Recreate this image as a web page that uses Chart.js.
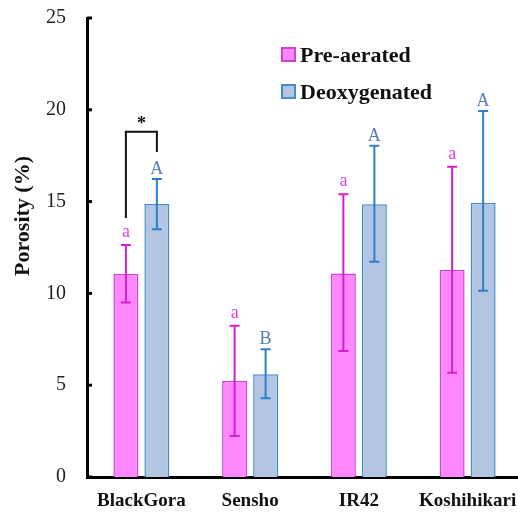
<!DOCTYPE html>
<html><head><meta charset="utf-8">
<script src="https://cdn.jsdelivr.net/npm/chart.js@4/dist/chart.umd.min.js"></script>
<style>html,body{margin:0;padding:0;overflow:hidden;background:#fff}#wrap{width:524px;height:513px}</style>
</head><body><div id="wrap"><canvas id="c" width="524" height="513"></canvas></div>
<script>
const categories = ['BlackGora', 'Sensho', 'IR42', 'Koshihikari'];
const seriesNames = ['Pre-aerated', 'Deoxygenated'];
const yTitle = 'Porosity (%)';
const preAerated = [11.06, 5.23, 11.09, 11.27];
const preHigh = [12.64, 8.24, 15.4, 16.9];
const preLow = [9.5, 2.23, 6.86, 5.68];
const deoxygenated = [14.87, 5.59, 14.85, 14.94];
const deoHigh = [16.23, 6.96, 18.04, 19.93];
const deoLow = [13.5, 4.29, 11.73, 10.15];
const preLetters = ['a', 'a', 'a', 'a'];
const deoLetters = ['A', 'B', 'A', 'A'];
const yTicks = [0, 5, 10, 15, 20, 25];
const bracket = {left: 14.1, top: 18.8, right: 17.7, label: '*'};

const PINK_FILL = '#ff88ff', PINK_LINE = '#d040d8', PINK_ERR = '#d21fd2', PINK_TXT = '#e040e0';
const BLUE_FILL = '#b2c5e3', BLUE_LINE = '#4a8cc8', BLUE_ERR = '#2f7fc8', BLUE_TXT = '#5a7db8';
const SERIF = '"Liberation Serif", "Times New Roman", serif';

const errHigh = [preHigh, deoHigh], errLow = [preLow, deoLow], letters = [preLetters, deoLetters];
const errColors = [PINK_ERR, BLUE_ERR], txtColors = [PINK_TXT, BLUE_TXT];
const letterGap = [8, 5];

const extras = {
  id: 'extras',
  afterDatasetsDraw(chart) {
    const ctx = chart.ctx, y = chart.scales.y, area = chart.chartArea;
    ctx.save();
    chart.data.datasets.forEach((ds, di) => {
      const meta = chart.getDatasetMeta(di);
      meta.data.forEach((bar, i) => {
        const x = bar.x;
        const yt = y.getPixelForValue(errHigh[di][i]);
        const yb = y.getPixelForValue(errLow[di][i]);
        ctx.strokeStyle = errColors[di];
        ctx.lineWidth = 2;
        ctx.beginPath();
        ctx.moveTo(x, yt); ctx.lineTo(x, yb);
        ctx.moveTo(x - 5, yt); ctx.lineTo(x + 5, yt);
        ctx.moveTo(x - 5, yb); ctx.lineTo(x + 5, yb);
        ctx.stroke();
        ctx.fillStyle = txtColors[di];
        ctx.font = '18px ' + SERIF;
        ctx.textAlign = 'center';
        ctx.textBaseline = 'alphabetic';
        ctx.fillText(letters[di][i], x, yt - letterGap[di]);
      });
    });
    const x0 = chart.getDatasetMeta(0).data[0].x;
    const x1 = chart.getDatasetMeta(1).data[0].x;
    const yl = y.getPixelForValue(bracket.left), ytp = y.getPixelForValue(bracket.top), yr = y.getPixelForValue(bracket.right);
    ctx.strokeStyle = '#111';
    ctx.lineWidth = 2;
    ctx.beginPath();
    ctx.moveTo(x0, yl); ctx.lineTo(x0, ytp); ctx.lineTo(x1, ytp); ctx.lineTo(x1, yr);
    ctx.stroke();
    ctx.fillStyle = '#111';
    ctx.font = 'bold 18px ' + SERIF;
    ctx.textAlign = 'center';
    ctx.fillText(bracket.label, (x0 + x1) / 2, ytp - 3);
    ctx.strokeStyle = '#000';
    ctx.lineWidth = 3;
    yTicks.forEach(v => {
      const py = y.getPixelForValue(v);
      ctx.beginPath(); ctx.moveTo(area.left, py); ctx.lineTo(area.left + 5, py); ctx.stroke();
    });
    const fills = [PINK_FILL, BLUE_FILL], lines = [PINK_LINE, BLUE_LINE];
    seriesNames.forEach((name, k) => {
      const top = 48 + k * 37;
      ctx.fillStyle = fills[k];
      ctx.fillRect(282, top, 13, 13);
      ctx.strokeStyle = lines[k];
      ctx.lineWidth = 2;
      ctx.strokeRect(282, top, 13, 13);
      ctx.fillStyle = '#111';
      ctx.font = 'bold 22px ' + SERIF;
      ctx.textAlign = 'left';
      ctx.textBaseline = 'alphabetic';
      ctx.fillText(name, 300, top + 14);
    });
    // y-axis title
    ctx.translate(23, 216);
    ctx.rotate(-Math.PI / 2);
    ctx.fillStyle = '#111';
    ctx.font = 'bold 22px ' + SERIF;
    ctx.textAlign = 'center';
    ctx.textBaseline = 'middle';
    ctx.fillText(yTitle, 0, 0);
    ctx.restore();
  }
};

new Chart(document.getElementById('c'), {
  type: 'bar',
  data: {
    labels: categories,
    datasets: [
      {label: seriesNames[0], data: preAerated, backgroundColor: PINK_FILL, borderColor: PINK_LINE, borderWidth: 1.5},
      {label: seriesNames[1], data: deoxygenated, backgroundColor: BLUE_FILL, borderColor: BLUE_LINE, borderWidth: 1.5}
    ]
  },
  options: {
    responsive: false,
    animation: false,
    devicePixelRatio: 1,
    categoryPercentage: 0.57,
    barPercentage: 0.806,
    layout: {padding: {top: 18, right: 2, left: 0, bottom: 0}},
    plugins: {legend: {display: false}, tooltip: {enabled: false}},
    scales: {
      x: {
        grid: {display: false, drawTicks: false},
        border: {display: true, color: '#000', width: 3},
        ticks: {color: '#111', font: {family: SERIF, size: 19, weight: 'bold'}, padding: 13, maxRotation: 0},
        afterFit(s) { s.height = 36; s.paddingLeft = 0; s.paddingRight = 0; }
      },
      y: {
        min: 0, max: 25,
        grid: {display: false, drawTicks: false},
        border: {display: true, color: '#000', width: 3},
        ticks: {stepSize: 5, color: '#222', font: {family: SERIF, size: 20}, padding: 21},
        title: {display: false, text: yTitle},
        afterFit(s) { s.width = 87; s.paddingTop = 0; s.paddingBottom = 0; }
      }
    }
  },
  plugins: [extras]
});
</script></body></html>
